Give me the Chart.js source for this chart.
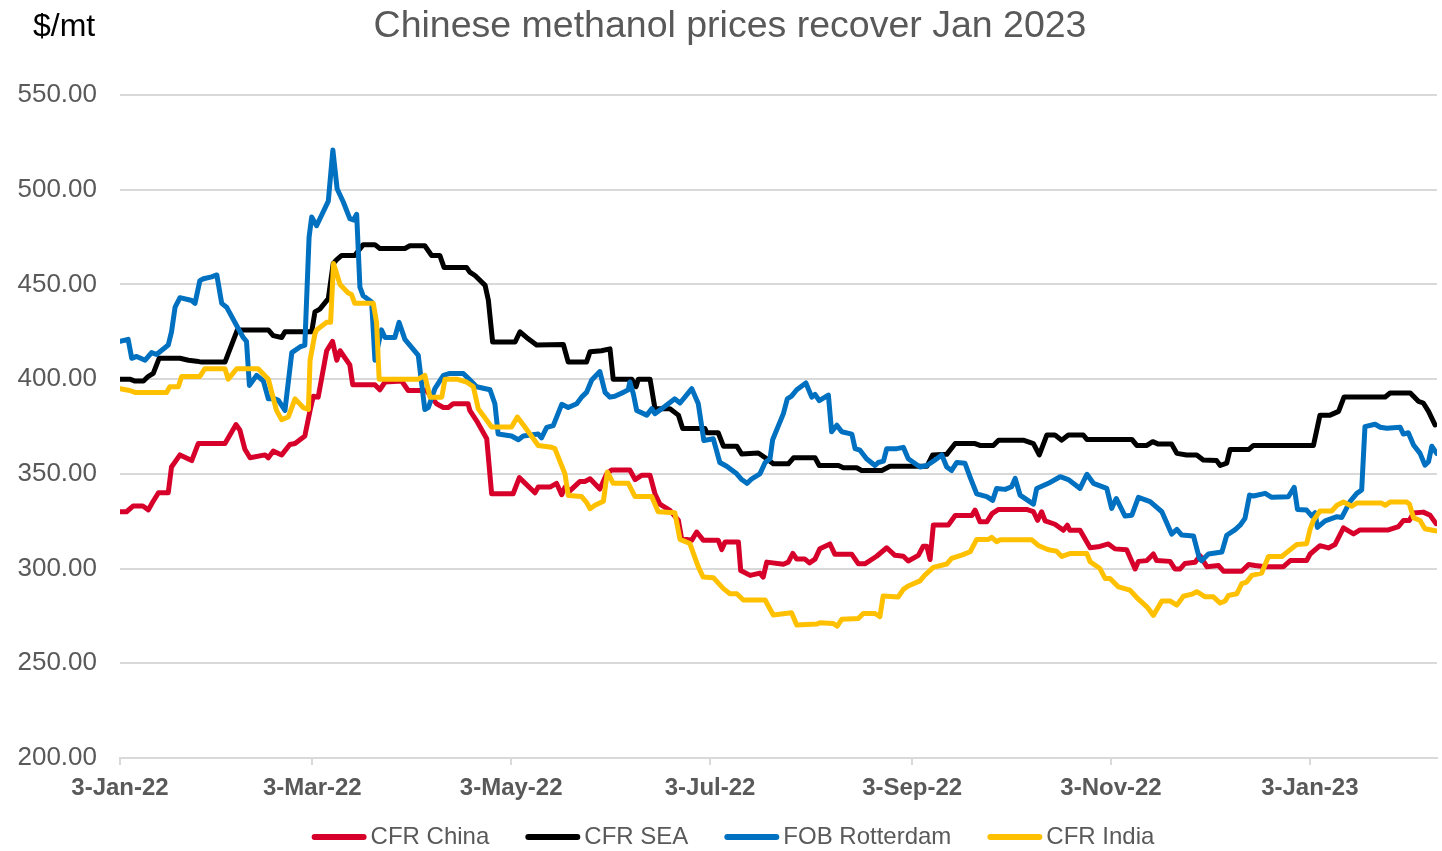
<!DOCTYPE html>
<html>
<head>
<meta charset="utf-8">
<title>Chinese methanol prices</title>
<script src="https://cdn.jsdelivr.net/npm/chart.js@4.4.0/dist/chart.umd.min.js"></script>
<style>
  html, body { margin: 0; padding: 0; background: #fff; }
  #wrap { width: 1442px; height: 851px; }
</style>
</head>
<body>
<div id="wrap"><canvas id="priceChart" width="1442" height="851"></canvas></div>
<script>
const chartTitle = 'Chinese methanol prices recover Jan 2023';
const unitLabel = '$/mt';
const seriesNames = ['CFR China', 'CFR SEA', 'FOB Rotterdam', 'CFR India'];

// x = days since 3-Jan-22, y = $/mt
const cfrChina = [
  [0,330],[2,330],[4,333],[7,333],[8.7,331],[10,335],[11.8,340],[14.8,340],[15.8,353.6],[18.4,360],[22,357],[24,366],
  [32.2,366],[35.6,376],[36.8,373],[38.3,363],[39.9,358.5],[44.5,360],[45.5,358.5],[47,362],[49.6,360],[52.1,365.5],
  [53.7,366],[56.7,370],[58.3,383.5],[59.3,391],[60.8,390.5],[63.4,415],[65.2,420],[65.9,414.5],[66.5,410],[67.5,415],
  [70.5,407.5],[71.4,397],[78.2,397],[79.7,394.4],[81.3,398.5],[86.4,399],[88.4,394],[94,394],[97.1,387],[99.2,385],
  [100.7,385],[102.2,387],[106.8,387],[107.3,383.5],[109.4,378],[112.5,368.5],[114,339.5],[120.6,339.5],[122.5,348],
  [127.3,340],[128.3,343],[131.9,343],[133.9,345],[135.5,339],[136.5,343],[138,341],[141.1,346],[142.6,346],[144.2,347.4],
  [147.2,342],[149.3,350],[150.8,352],[156.4,352],[158,347],[160,349.2],[162.6,349.2],[164.1,339.5],[165.6,334],
  [168.7,330.7],[171.3,325.4],[172.3,315.7],[175.4,315],[176.9,319.3],[178.9,315],[183.5,315],[184.6,310],[185.6,314],
  [189.7,314],[190.4,299],[193.3,296.4],[196.3,297.6],[197.3,295.5],[198.4,303.4],[203.5,302.3],[205,303.4],[206.4,308],
  [207.6,305],[210.1,305],[211.5,303],[213.2,305],[214.7,310.5],[217.8,313],[219.3,307.5],[224.5,307.5],[226.5,302.5],
  [228.5,302.5],[232.1,306.5],[235.2,311],[237.7,307],[240.3,306.5],[241.8,304],[244.9,307],[246.4,311.8],[247.5,311.8],
  [248.5,304.8],[249.5,323],[254.1,323],[256.2,328],[261.3,328],[262.3,330.9],[263.8,324.7],[265.9,324.7],[267.5,329],
  [269.5,331.2],[278.1,331.2],[280.2,330],[281.5,325.5],[282.7,330],[283.8,325.2],[286.8,323.4],[289.4,320.2],
  [290.6,322.9],[291.4,320.2],[294.5,320.2],[297.6,311],[300.6,311.7],[303.2,313],[305.2,310.4],[308.8,309.9],
  [311.4,299.8],[312.4,303.8],[315,304.2],[317,307.7],[318,304.2],[322.1,303.8],[323.6,299.8],[325.2,299.8],
  [326.7,302.7],[329.8,303.3],[331.3,306.8],[333.4,301],[337,301.6],[338.5,298.6],[344.1,298.6],[346.2,302.1],
  [348.2,301.6],[351.3,301],[356.9,301],[359,304.2],[364,304.2],[365.1,307.7],[368.1,312.1],[370.7,310.9],[372.7,312.7],
  [375.3,321.5],[378.4,318.3],[380.4,320.4],[389.1,320.4],[392.2,322.2],[393.7,325.4],[395.5,325.4],[396.8,329.3],
  [399.8,329.8],[401.9,328.1],[403.7,323.7]
];

const cfrSea = [
  [0,400],[3,400],[4.6,399],[7.2,399],[8.7,401.5],[10.2,403],[12,411],[18.4,411],[21,410],[23.5,409.5],[25,409],
  [32.2,409],[36,426],[45.5,426],[47,423],[49.6,422],[50.6,425],[58.8,425],[59.8,435.5],[61.3,437],[63.9,442.5],
  [65.4,461],[66.4,463],[68,465.3],[72,465.3],[74.6,471],[78.2,471],[79.7,469],[87.4,469],[88.9,470.4],[93.5,470.4],
  [95.6,465.3],[98.1,465.3],[99.4,459],[106.3,459],[107.3,456.5],[108.9,454.7],[112,449.5],[113,441.6],[114.3,419.6],
  [121.2,419.6],[122.7,425],[124.7,422],[127.8,418],[136,418.3],[137.5,409],[143.1,409],[144.2,414.5],[147.7,415],
  [150.3,416],[151.3,400],[157,400],[158.3,396],[159,400],[162.6,400],[164.1,384.4],[168.7,384.4],[171.3,381],
  [172.6,374],[179.4,374],[180,371.7],[183.5,371.7],[185.1,364.6],[189.2,364.6],[190.7,360.5],[195.8,361],[198.4,358],
  [200.4,355.3],[205,355.3],[206.6,358.5],[213.2,358.5],[214.5,354.4],[220.4,354.4],[221.9,353.2],[226,353.2],
  [227.5,351.8],[233.7,351.8],[236.2,354],[247.5,354],[249.3,360],[253.6,360.3],[256.2,366],[262.3,366],[263.8,365],
  [267.9,365],[269.5,367.8],[277.1,367.8],[280.2,366],[282,360],[284.3,370.5],[286.8,370.5],[288.9,367.8],[290.9,370.5],
  [295.5,370.5],[296.6,368.2],[310.4,368.2],[311.9,365],[315,365],[316.8,367],[318.5,365.7],[322.6,365.7],[324.2,360.8],
  [327.2,360],[330.3,360],[332.3,357.3],[336.4,357],[337.5,354.4],[339.5,355.7],[340.5,362.8],[346.2,362.8],
  [347.7,365],[366.1,365],[368.1,381],[371.2,381],[373.8,383],[375.5,390.6],[388.1,390.6],[389.6,392.7],[395.8,392.7],
  [398.3,388.3],[399.8,387.4],[401.4,383],[403.4,375.8]
];

const fobRotterdam = [
  [0,420],[2.5,421],[3.6,411],[5.1,412],[7.7,410],[9.7,414],[11.2,413],[14.8,418],[15.8,425],[16.9,438],[18.4,443],
  [22,441.5],[23,440],[24.5,452],[25.6,453],[28.1,454],[29.7,455],[31.2,440],[32.7,438],[36.3,426.6],[37.8,422],
  [38.8,420],[39.7,396.7],[41.9,402],[44,399],[45.5,389.6],[47.5,389.6],[48.6,388.8],[50.6,383.5],[52.7,414],[55.2,417],
  [56.7,418],[58,475],[58.8,485.6],[60.3,481],[63.9,494],[65.3,521],[66.6,500.5],[68.5,493.5],[70.5,484.7],[71.6,484],
  [72.6,487],[73.6,448.6],[74.6,444],[77.2,440.7],[78.2,410],[80.2,426],[81.3,422],[84.3,422],[85.6,430],[87.4,421],
  [91.5,412.5],[93.5,384],[94.6,385],[96.6,395],[99.2,402],[101.2,403],[105.3,403],[107.3,399.6],[109.4,396],
  [113.5,394.4],[115,387],[116,371],[120.1,370],[122.2,368],[123.7,370],[128.3,371],[129.3,369],[130.9,374.5],
  [132.9,375.5],[135.5,386.7],[137.5,385],[140.1,387],[141.6,390.5],[143.1,393],[144.7,399.5],[147.2,404],[148.8,393],
  [150.3,390.5],[151.8,391],[154.4,393],[155.9,394.4],[156.4,398.5],[157.5,392],[158.5,383.5],[161.6,381],[163.1,384.4],
  [164.1,381.8],[166.2,384.4],[170.2,389.6],[171.8,387.4],[175.4,395],[177.4,387],[179.1,367.6],[182,368.5],[184,356],
  [186.1,354],[189.2,350],[190.7,347],[192.4,345],[193.8,347.4],[196.3,350],[197.9,356],[199.4,358],[200.2,368],
  [203.5,381.8],[204.7,389.6],[206,391],[207.6,394.4],[210.4,398],[212.2,390.5],[213.2,392],[214.5,388.6],[217.3,391.6],
  [218.3,372.2],[219.9,375.7],[221.4,372.2],[224.5,371],[225.5,363.3],[227,362.5],[229,358],[231.6,354.4],[232.6,356],
  [234.2,356.7],[235.2,363.3],[238.3,363.3],[240.3,364],[241.8,358],[245.4,353.6],[247.5,354.4],[249.5,356.7],
  [252.1,360],[253.6,353.6],[255.1,351.8],[256.7,356],[259.2,355.6],[260.8,348.2],[262.8,339.4],[265.9,338],
  [267.7,336],[268.9,342.3],[271.5,341.8],[273.5,343.2],[274.6,347.6],[276.1,338.8],[280.2,334],[281.2,342.3],
  [284.8,345],[288.4,348.5],[290.9,347],[294.5,342.3],[296.6,349.8],[298.6,345],[302.7,342.3],[304.2,331.8],
  [305.6,337],[308.3,327.7],[310.4,328.2],[312.4,337.6],[316,335.3],[319.6,330],[322.6,318.2],[324.2,320.7],
  [325.7,317.7],[329.3,317.2],[331.1,305.4],[331.8,304.2],[333.9,307.7],[338,308.7],[339.5,317.6],[342.1,320.6],
  [343.6,322.9],[345.1,326.5],[346.5,338.8],[347.7,338.3],[351.3,339.7],[353.3,337.6],[358.4,337.9],[360.2,342.9],
  [361.2,331.2],[364,330.9],[365.6,327.7],[366.6,329.5],[367.3,321.7],[369.7,325.2],[373.3,327.4],[374.8,327],
  [377.3,335.3],[379.4,339.7],[380.9,341.5],[381.9,374.9],[385,376.2],[386.6,374.6],[388.6,374.1],[392.7,374.6],
  [393.7,371],[395.2,371.7],[396.8,365.2],[398.8,360.8],[400.3,354.6],[401.4,356.4],[402.4,364.6],[403.9,360.8]
];

const cfrIndia = [
  [0,395],[3,394],[4.6,393],[14.3,393],[15.3,396],[17.9,396],[18.9,401.4],[24.5,401.4],[26,405.5],[32.2,405.5],
  [33.2,400],[35.8,405.5],[42.4,405.5],[45.5,400],[48,383.5],[49.6,378.6],[51.6,380],[53.7,389.6],[56.2,385],[57.8,384],
  [58.3,410],[59.8,424],[60.3,426],[63.4,430],[64.6,430],[65.5,461],[67.5,450],[70,445.5],[71,444.7],[72,440],
  [77.7,440],[78.7,430],[79.5,400],[91.5,400],[93.5,402],[95.1,390.5],[98.7,390.5],[99.7,400],[103.3,400],[106.3,398.5],
  [108.4,396],[109.9,384.4],[114,374.7],[120.1,374.7],[121.9,380],[124.2,374.7],[128.3,365],[132.4,364],[133.4,363.3],
  [136.5,350],[137.5,338.6],[141.6,338],[143.1,335],[144.2,331.6],[145.7,333.4],[148.3,335.6],[149.5,351],[151.3,345],
  [155.9,345],[158,338],[163.1,338],[165.1,330],[170.2,329.5],[171.8,315.4],[174.8,313.2],[177.4,300.9],[178.9,295.5],
  [182,295.2],[185.1,289.4],[187.1,286.7],[189.2,286.7],[191.2,283.4],[197.9,283.4],[200.4,275.5],[206,276.7],
  [207.6,270.2],[213.7,270.7],[214.7,271.4],[218.8,271],[220,269.6],[221.4,273.2],[226.5,273.7],[228,276.3],
  [231.6,276.3],[233.1,274.6],[234.1,285.5],[238.7,285],[240.3,289],[241.8,290.8],[245.4,293.5],[246.9,296.6],
  [249.5,300.6],[253.6,302.4],[255.1,305.4],[258.2,307.1],[260.8,308.9],[262.8,315.4],[266.4,315.4],[267.4,316.5],
  [268.9,314.2],[270,315.2],[279.7,315.2],[281.7,312.2],[284.8,309.9],[287.3,309.2],[288.9,306.4],[291.4,307.9],
  [296.6,307.9],[297.6,303.6],[300.6,300],[302.2,294.8],[303.7,294.8],[306.3,290.3],[309.8,288.6],[311.9,284.7],
  [315,279.8],[317,275.3],[319.6,282.9],[322.1,282.9],[324.2,280.7],[326.2,285.4],[328.8,286.5],[330.3,287.8],
  [332.9,285.1],[335.4,285.1],[337.5,281.8],[339,282.9],[340,285.8],[342.6,286.7],[344.1,292],[345.6,292.9],
  [347.2,296.4],[350.2,297.6],[352.3,306.4],[356.4,306.4],[358.4,309.2],[361,312.7],[364,313.1],[365.1,321],
  [366.1,325.4],[368.1,330.4],[371.7,330.4],[373.3,333.4],[375.3,335.1],[377.9,332.9],[379.4,334.6],[387,334.6],
  [388.1,333.4],[389.6,335.1],[394.7,335.1],[395.5,334.2],[396.8,326.8],[398.8,325.4],[400.3,321],[403.9,319.8]
];

// labelled dates on the x axis, as days since 3-Jan-22
const tickDays = [0, 59, 120, 181, 243, 304, 365];

const startDate = Date.UTC(2022, 0, 3);
const monthNames = ['Jan','Feb','Mar','Apr','May','Jun','Jul','Aug','Sep','Oct','Nov','Dec'];
function dayLabel(d) {
  const dt = new Date(startDate + d * 86400000);
  return dt.getUTCDate() + '-' + monthNames[dt.getUTCMonth()] + '-' + String(dt.getUTCFullYear()).slice(2);
}

const toPoints = rows => rows.map(r => ({ x: r[0], y: r[1] }));
const seriesData = [cfrChina, cfrSea, fobRotterdam, cfrIndia];
const seriesColors = ['#D6002A', '#000000', '#0070C0', '#FFC000'];

const FONT = '"Liberation Sans", Arial, sans-serif';
Chart.defaults.font.family = FONT;

// title, unit label and the legend are painted by hand
const headerAndLegend = {
  id: 'headerAndLegend',
  afterDraw(chart) {
    const ctx = chart.ctx;
    ctx.save();
    ctx.textBaseline = 'alphabetic';
    ctx.fillStyle = '#595959';
    ctx.font = '37.5px ' + FONT;
    ctx.textAlign = 'center';
    ctx.fillText(chartTitle, 730, 37);

    ctx.fillStyle = '#000000';
    ctx.font = '32px ' + FONT;
    ctx.textAlign = 'left';
    ctx.fillText(unitLabel, 33, 36);

    ctx.font = '24px ' + FONT;
    const lineLen = 55, gap = 4, itemGap = 36, y = 837;
    const items = chart.data.datasets.map(ds => ({
      label: ds.label, color: ds.borderColor, w: ctx.measureText(ds.label).width
    }));
    const total = items.reduce((s, it) => s + lineLen + gap + it.w, 0) + itemGap * (items.length - 1);
    let x = 733 - total / 2;
    items.forEach(it => {
      ctx.strokeStyle = it.color;
      ctx.lineWidth = 6;
      ctx.lineCap = 'round';
      ctx.beginPath();
      ctx.moveTo(x + 3, y);
      ctx.lineTo(x + lineLen - 3, y);
      ctx.stroke();
      ctx.fillStyle = '#595959';
      ctx.textBaseline = 'middle';
      ctx.fillText(it.label, x + lineLen + gap, y);
      x += lineLen + gap + it.w + itemGap;
    });
    ctx.restore();
  }
};

const ctx = document.getElementById('priceChart').getContext('2d');

new Chart(ctx, {
  type: 'line',
  data: {
    datasets: seriesNames.map((name, i) => ({
      label: name,
      data: toPoints(seriesData[i]),
      borderColor: seriesColors[i],
      backgroundColor: seriesColors[i],
      borderWidth: 5,
      pointRadius: 0,
      tension: 0,
      borderJoinStyle: 'round',
      borderCapStyle: 'round',
      order: seriesNames.length - 1 - i   // later series drawn on top
    }))
  },
  options: {
    responsive: false,
    animation: false,
    layout: { padding: { top: 95, right: 5, bottom: 43, left: 0 } },
    plugins: {
      legend: { display: false },
      title: { display: false },
      tooltip: { enabled: false }
    },
    scales: {
      x: {
        type: 'linear',
        min: 0,
        max: 404,
        afterBuildTicks: scale => { scale.ticks = tickDays.map(v => ({ value: v })); },
        afterFit: scale => { scale.height = 50; },
        grid: { drawOnChartArea: false, drawTicks: true, tickLength: 7, color: '#d9d9d9', lineWidth: 2 },
        border: { display: true, color: '#d9d9d9', width: 2 },
        ticks: {
          autoSkip: false,
          maxRotation: 0,
          padding: 9,
          color: '#595959',
          font: { size: 24, weight: 'bold' },
          callback: v => dayLabel(v)
        }
      },
      y: {
        min: 200,
        max: 550,
        afterFit: scale => { scale.width = 120; },
        grid: { color: '#d9d9d9', lineWidth: 2, drawTicks: false },
        border: { display: false },
        ticks: {
          stepSize: 50,
          padding: 23,
          color: '#595959',
          font: { size: 26 },
          callback: v => v.toFixed(2)
        }
      }
    }
  },
  plugins: [headerAndLegend]
});
</script>
</body>
</html>
